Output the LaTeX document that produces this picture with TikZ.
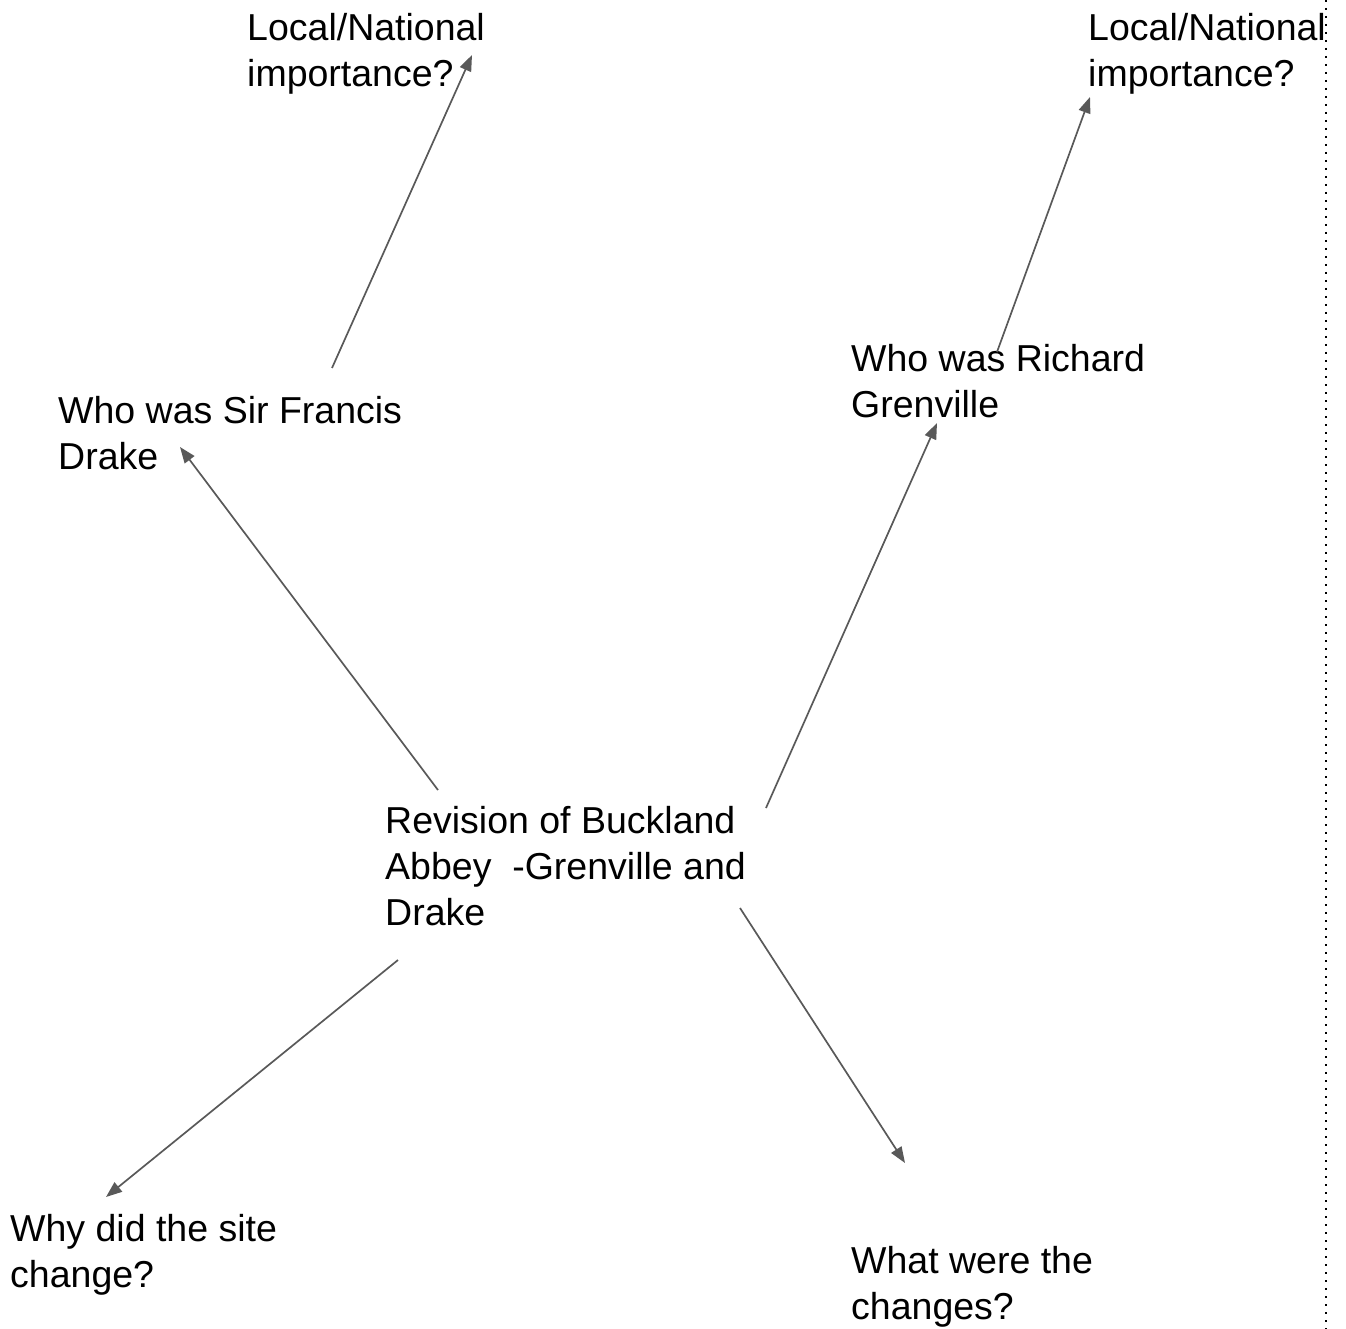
\documentclass[tikz,border=0pt]{standalone}
\usepackage{fontspec}
\setmainfont{Liberation Sans}
\usetikzlibrary{arrows.meta}
\tikzset{
  lbl/.style={anchor=north west, inner sep=0pt, align=left, font=\fontsize{37.5}{46}\selectfont},
  link/.style={draw={rgb,255:red,89;green,89;blue,89}, line width=1.7pt, -{Triangle[length=16pt,width=12pt]}}
}
\begin{document}
\begin{tikzpicture}[x=1pt,y=1pt,yscale=-1,xscale=1]
      \useasboundingbox (0,0) rectangle (1346,1329);
      % text blocks
      \node[lbl] (natA) at (247,13) {Local/National\\importance?};
      \node[lbl] (natB) at (1088,13) {Local/National\\importance?};
      \node[lbl] (drake) at (58,396) {Who was Sir Francis\\Drake};
      \node[lbl] (gren) at (851,344) {Who was Richard\\Grenville};
      \node[lbl] (hub) at (385,806) {Revision of Buckland\\Abbey\ \ -Grenville and\\Drake};
      \node[lbl] (why) at (10,1214) {Why did the site\\change?};
      \node[lbl] (what) at (851,1246) {What were the\\changes?};
      % arrow ends
      \coordinate (d1) at (332,368);  \coordinate (d2) at (472,55);
      \coordinate (g1) at (997,352);  \coordinate (g2) at (1090,97);
      \coordinate (h1) at (438,790);  \coordinate (h2) at (180,447);
      \coordinate (h3) at (766,808);  \coordinate (h4) at (937,423);
      \coordinate (h5) at (398,960);  \coordinate (h6) at (106,1197);
      \coordinate (h7) at (740,908);  \coordinate (h8) at (905,1163);
      \draw[link] (d1) -- (d2);
      \draw[link] (g1) -- (g2);
      \draw[link] (h1) -- (h2);
      \draw[link] (h3) -- (h4);
      \draw[link] (h5) -- (h6);
      \draw[link] (h7) -- (h8);
      % page edge
      \coordinate (e1) at (1326,0); \coordinate (e2) at (1326,1329);
      \draw[line width=1.5pt, dash pattern=on 2pt off 6pt] (e1) -- (e2);
\end{tikzpicture}
\end{document}
